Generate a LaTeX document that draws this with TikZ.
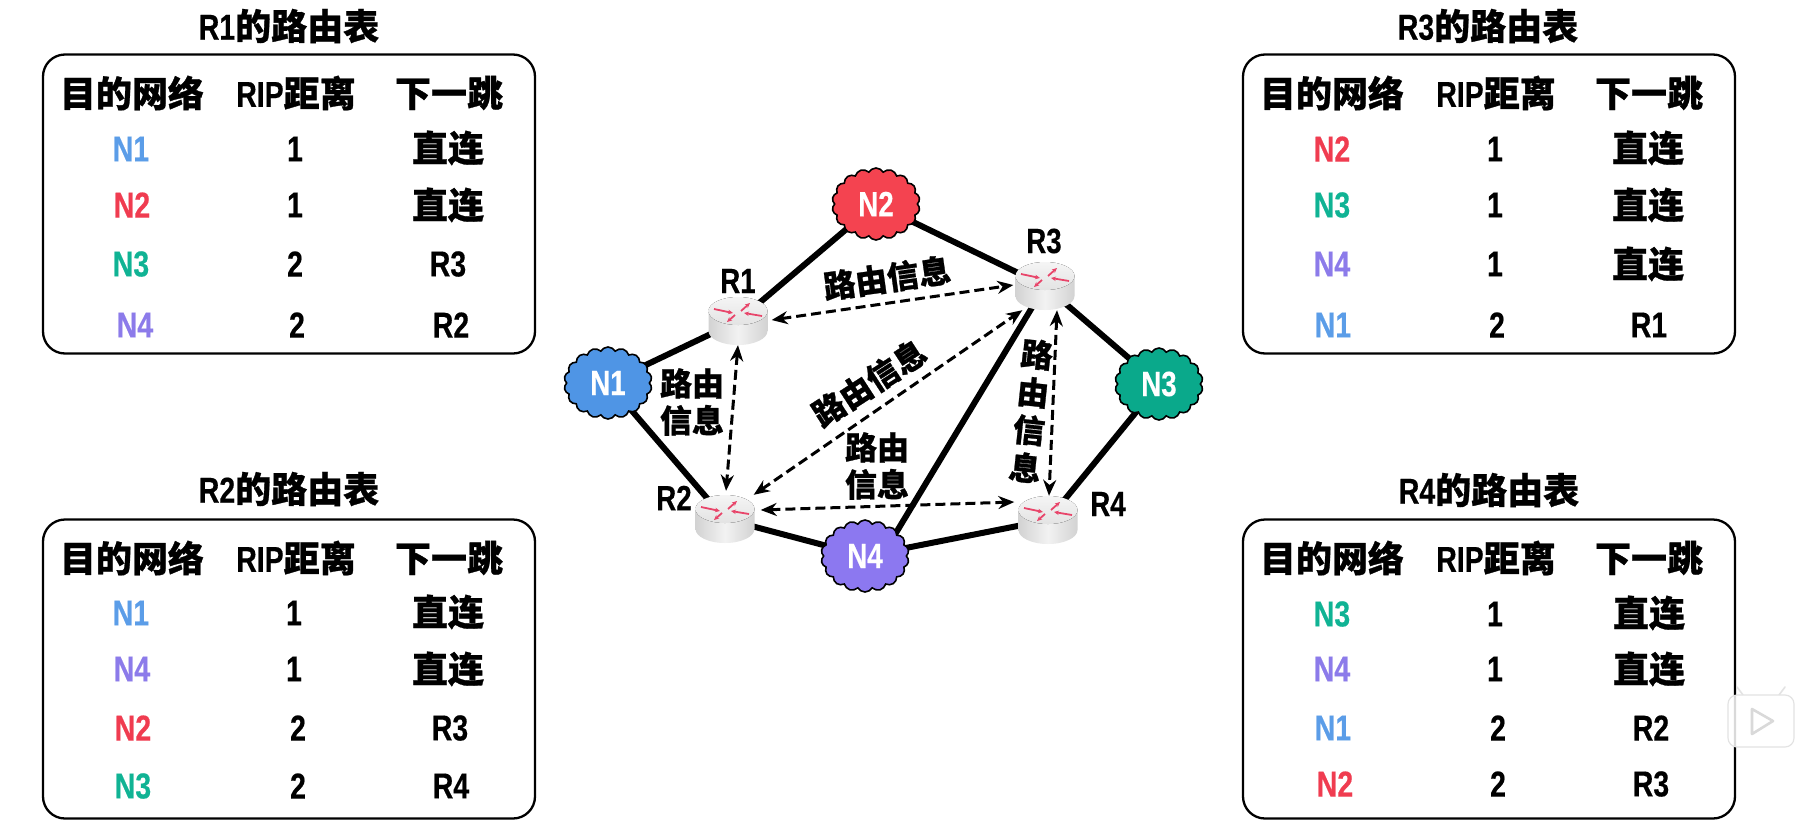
\documentclass[tikz,border=0pt]{standalone}
\usepackage{fontspec}
\usetikzlibrary{shapes.symbols,arrows.meta,calc,backgrounds}
\setmainfont{Liberation Sans}
\newfontfamily\lat[FakeStretch=0.79,FakeBold=0.4]{Liberation Sans}
\newfontfamily\cjk[FakeBold=0.8]{Noto Sans CJK SC}
\newcommand{\zh}[1]{{\cjk\bfseries #1}}
\definecolor{cnone}{HTML}{5B9DE8}
\definecolor{cntwo}{HTML}{F03C50}
\definecolor{cnthree}{HTML}{10B394}
\definecolor{cnfour}{HTML}{8C7BEA}
\definecolor{cloudone}{HTML}{4F95E5}
\definecolor{cloudtwo}{HTML}{F44350}
\definecolor{cloudthree}{HTML}{0AA98B}
\definecolor{cloudfour}{HTML}{8C78F0}
\definecolor{rarrow}{HTML}{E8456A}
\tikzset{
  tablebox/.style={draw=black,line width=2.3pt,rounded corners=22pt,inner sep=0pt,minimum width=492pt,minimum height=299pt},
  tabletitle/.style={inner sep=0pt,font=\lat\bfseries\fontsize{36}{37}\selectfont},
  cell/.style={inner sep=0pt,font=\lat\bfseries\fontsize{36}{37}\selectfont},
  cloudnet/.style={cloud,cloud puffs=18,cloud puff arc=120,aspect=1.2,draw=black,line width=1.6pt,minimum width=88pt,minimum height=72pt,inner sep=0pt,text=white,font=\lat\bfseries\fontsize{35}{36}\selectfont},
  routerbox/.style={inner sep=0pt,minimum width=59pt,minimum height=48pt},
  rlabel/.style={inner sep=0pt,font=\lat\bfseries\fontsize{35}{36}\selectfont},
  infolabel/.style={inner sep=0pt,align=center,font=\cjk\bfseries\fontsize{32}{37}\selectfont},
  link/.style={line width=6pt,black},
  info/.style={line width=3pt,black,dash pattern=on 10pt off 5pt,{Stealth[length=16pt,width=13pt]}-{Stealth[length=16pt,width=13pt]}},
  redarrow/.style={line width=1.8pt,rarrow,-{Stealth[length=5pt,width=4.5pt]}}
}
\newcommand{\drawrouter}[1]{%
  \begin{scope}[shift={(#1.center)}]
    \path[left color=gray!35!white,right color=gray!35!white,middle color=gray!10!white]
      (-29.5,-9) -- (-29.5,10) arc[x radius=29.5,y radius=14,start angle=180,end angle=0] -- (29.5,-9) -- cycle;
    \fill[top color=gray!8!white,bottom color=gray!22!white] (0,-10) ellipse[x radius=29.5,y radius=14];
    \draw[redarrow] (-24,-12) -- (-5,-8);
    \draw[redarrow] (24,-5) -- (6,-8);
    \draw[redarrow] (-3,-6) -- (-11,1);
    \draw[redarrow] (3,-10) -- (12,-18);
  \end{scope}}
\begin{document}
\begin{tikzpicture}[x=1pt,y=-1pt]
\useasboundingbox (0,0) rectangle (1818,833);
% tables
\node[tablebox] (ta) at (289,204) {};
\node[tablebox] (tb) at (289,669) {};
\node[tablebox] (tc) at (1489,204) {};
\node[tablebox] (td) at (1489,669) {};
\node[tabletitle] (tat) at (289,26) {R1\zh{的路由表}};
\node[tabletitle] (tbt) at (289,489) {R2\zh{的路由表}};
\node[tabletitle] (tct) at (1488,26) {R3\zh{的路由表}};
\node[tabletitle] (tdt) at (1489,490) {R4\zh{的路由表}};
% table A
\foreach \x/\y/\c/\t [count=\i] in {
 132/93/black/\zh{目的网络}, 296/93/black/RIP\zh{距离}, 449/93/black/\zh{下一跳},
 131/149/cnone/N1, 295/149/black/1, 448/148/black/\zh{直连},
 132/205/cntwo/N2, 295/205/black/1, 448/205/black/\zh{直连},
 131/264/cnthree/N3, 295/264/black/2, 448/264/black/R3,
 135/325/cnfour/N4, 297/325/black/2, 451/325/black/R2}
 \node[cell,text=\c] (ac\i) at (\x,\y) {\t};
% table B
\foreach \x/\y/\c/\t [count=\i] in {
 132/558/black/\zh{目的网络}, 296/558/black/RIP\zh{距离}, 449/558/black/\zh{下一跳},
 131/613/cnone/N1, 294/613/black/1, 448/612/black/\zh{直连},
 132/669/cnfour/N4, 294/669/black/1, 448/669/black/\zh{直连},
 133/728/cntwo/N2, 298/728/black/2, 450/728/black/R3,
 133/786/cnthree/N3, 298/786/black/2, 451/786/black/R4}
 \node[cell,text=\c] (bc\i) at (\x,\y) {\t};
% table C
\foreach \x/\y/\c/\t [count=\i] in {
 1332/93/black/\zh{目的网络}, 1496/93/black/RIP\zh{距离}, 1649/93/black/\zh{下一跳},
 1332/149/cntwo/N2, 1495/149/black/1, 1648/148/black/\zh{直连},
 1332/205/cnthree/N3, 1495/205/black/1, 1648/205/black/\zh{直连},
 1332/264/cnfour/N4, 1495/264/black/1, 1648/264/black/\zh{直连},
 1333/325/cnone/N1, 1497/325/black/2, 1649/325/black/R1}
 \node[cell,text=\c] (cc\i) at (\x,\y) {\t};
% table D
\foreach \x/\y/\c/\t [count=\i] in {
 1332/558/black/\zh{目的网络}, 1496/558/black/RIP\zh{距离}, 1649/558/black/\zh{下一跳},
 1332/614/cnthree/N3, 1495/614/black/1, 1649/613/black/\zh{直连},
 1332/669/cnfour/N4, 1495/669/black/1, 1649/669/black/\zh{直连},
 1333/728/cnone/N1, 1498/728/black/2, 1651/728/black/R2,
 1335/784/cntwo/N2, 1498/784/black/2, 1651/784/black/R3}
 \node[cell,text=\c] (dc\i) at (\x,\y) {\t};
% network nodes
\node[cloudnet,fill=cloudtwo] (n2) at (876,204) {N2};
\node[cloudnet,fill=cloudone] (n1) at (608,383) {N1};
\node[cloudnet,fill=cloudthree] (n3) at (1159,384) {N3};
\node[cloudnet,fill=cloudfour] (n4) at (865,556) {N4};
\node[routerbox] (r1) at (738,321) {};
\node[routerbox] (r2) at (725,519) {};
\node[routerbox] (r3) at (1045,286) {};
\node[routerbox] (r4) at (1048,520) {};
\drawrouter{r1}\drawrouter{r2}\drawrouter{r3}\drawrouter{r4}
\begin{scope}[on background layer]
  \fill[white] (0,0) rectangle (1818,833);
  \draw[link] (r1.center) -- (n2.center);
  \draw[link] (n2.center) -- (r3.center);
  \draw[link] (r1.center) -- (n1.center);
  \draw[link] (n1.center) -- (r2.center);
  \draw[link] (r3.center) -- (n3.center);
  \draw[link] (n3.center) -- (r4.center);
  \draw[link] (r2.center) -- (n4.center);
  \draw[link] (n4.center) -- (r4.center);
  \draw[link] ($(n4.center)+(17,0)$) -- (r3.center);
\end{scope}
% information exchange
\draw[info] ($(r1.east)+(4,-1)$) -- ($(r3.west)+(-2,-1)$);
\draw[info] (r1.south) -- ($(r2.north)+(1,-4)$);
\draw[info] ($(r2.north east)+(-1,0)$) -- ($(r3.south west)+(7,0)$);
\draw[info] ($(r2.east)+(6,-9)$) -- ($(r4.west)+(-4,-18)$);
\draw[info] ($(r3.south)+(12,0)$) -- ($(r4.north)+(1,0)$);
% labels
\node[rlabel] (lr1) at (738,281) {R1};
\node[rlabel] (lr2) at (674,498) {R2};
\node[rlabel] (lr3) at (1044,241) {R3};
\node[rlabel] (lr4) at (1108,504) {R4};
\node[infolabel,rotate=8] (i1) at (887,278) {路由信息};
\node[infolabel,rotate=33] (i2) at (869,383) {路由信息};
\node[infolabel] (i3) at (692,402) {路由\\信息};
\node[infolabel] (i4) at (877,466) {路由\\信息};
\node[infolabel,rotate=-6,font=\cjk\bfseries\fontsize{32}{38}\selectfont] (i5) at (1031,411) {路\\由\\信\\息};
% video-site watermark
\draw[gray!22,line width=1.6pt,line cap=round] (1743,695) -- (1737,687);
\draw[gray!22,line width=1.6pt,line cap=round] (1779,695) -- (1785,687);
\draw[gray!22,line width=1.2pt,fill=white,fill opacity=.85,rounded corners=9pt] (1728,695) rectangle (1794,747);
\draw[gray!30,line width=2.6pt,line join=round] (1752,709) -- (1773,721) -- (1752,734) -- cycle;
\end{tikzpicture}
\end{document}
